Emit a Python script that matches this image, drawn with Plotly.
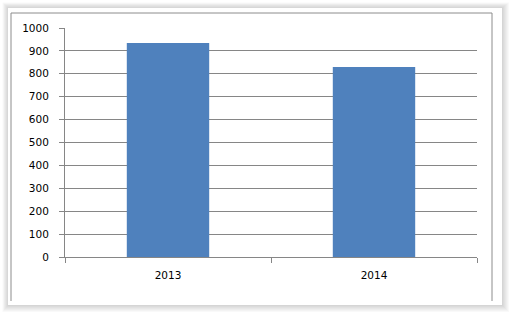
import plotly.graph_objects as go

categories = ["2013", "2014"]
values = [935, 830]
y_ticks = list(range(0, 1001, 100))

W, H = 509, 315
L, R, T, B = 65, 32, 28, 58
pw, ph = W - L - R, H - T - B

def px(x):
    return (x - L) / pw

def py(y):
    return (H - B - y) / ph

fig = go.Figure(go.Bar(x=categories, y=values, marker_color="#4F81BD",
                       marker_line_width=0, width=0.4))

shapes = []
# soft shadow around the white card
for i in range(7):
    off = 7 - i
    shapes.append(dict(type="rect", xref="paper", yref="paper", layer="below",
                       x0=px(8 - off * 0.8), x1=px(502 + off),
                       y0=py(8 - off * 0.8), y1=py(305 + off),
                       line_width=0, fillcolor="rgba(0,0,0,0.022)"))
# white card
shapes.append(dict(type="rect", xref="paper", yref="paper", layer="below",
                   x0=px(8), x1=px(502), y0=py(8), y1=py(305),
                   line_width=0, fillcolor="white"))
# gray frame lines (top, left, right)
frame = dict(color="#8C8C8C", width=1)
shapes.append(dict(type="line", xref="paper", yref="paper", layer="below",
                   x0=px(11), x1=px(492), y0=py(13), y1=py(13), line=frame))
shapes.append(dict(type="line", xref="paper", yref="paper", layer="below",
                   x0=px(11), x1=px(11), y0=py(13), y1=py(301), line=frame))
shapes.append(dict(type="line", xref="paper", yref="paper", layer="below",
                   x0=px(492), x1=px(492), y0=py(13), y1=py(301), line=frame))

fig.update_layout(
    width=W, height=H, margin=dict(l=L, r=R, t=T, b=B, pad=0),
    paper_bgcolor="white", plot_bgcolor="rgba(0,0,0,0)",
    showlegend=False, bargap=0.6, shapes=shapes,
    font=dict(family="DejaVu Sans", size=10.5, color="black"),
)
fig.update_xaxes(type="category", showline=True, linecolor="#868686", linewidth=1,
                 ticks="outside", tickson="boundaries", ticklen=5, tickcolor="#868686",
                 showgrid=False, ticklabelstandoff=8)
fig.update_yaxes(range=[0, 1000], tickvals=y_ticks, showline=True, linecolor="#868686",
                 linewidth=1, ticks="outside", ticklen=5, tickcolor="#868686",
                 showgrid=True, gridcolor="#868686", gridwidth=1, zeroline=False,
                 ticklabelstandoff=8)

fig.write_html("out.html")
